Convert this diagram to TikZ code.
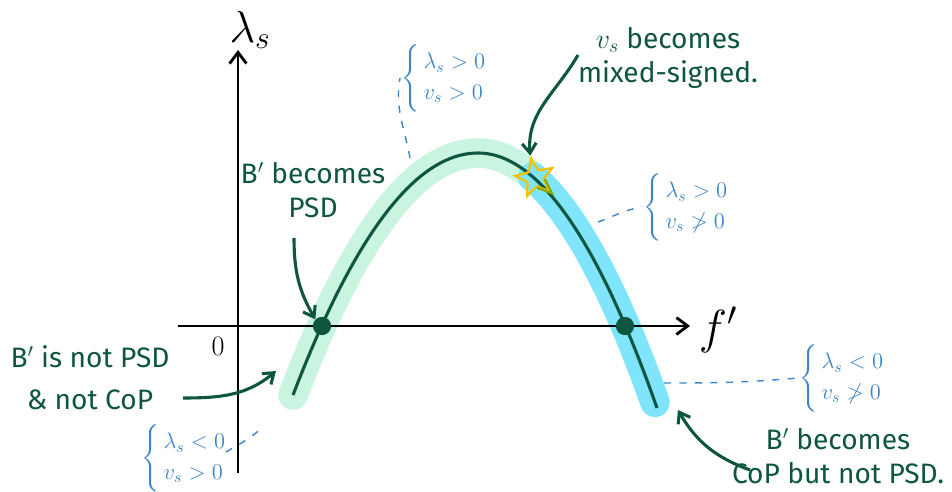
\RequirePackage{fix-cm}
\documentclass[tikz,border=0pt]{standalone}
\usepackage{amsmath, amssymb}
\usepackage{fontspec}
\setmainfont{Fira Sans}
\usepackage{xcolor}
\usepackage{tikz}
\usetikzlibrary{positioning, arrows.meta, shapes.geometric}

\definecolor{ngreen}{HTML}{0E5640}
\definecolor{nblue}{HTML}{3D85C6}
\definecolor{mint}{HTML}{C9F4DF}
\definecolor{skyband}{HTML}{80E5FB}
\definecolor{staryel}{HTML}{F2C200}
\definecolor{starolive}{HTML}{8AA800}

\newcommand{\signs}[2]{$\left\{\renewcommand{\arraystretch}{1.15}\begin{array}{@{\,}l@{}}#1\\ #2\end{array}\right.$}

\tikzset{
  note/.style={text=ngreen, font=\fontsize{20}{24}\selectfont, align=center, inner sep=1pt},
  cond/.style={text=nblue, font=\fontsize{16}{19}\selectfont, anchor=west, inner sep=1pt},
  pointer/.style={draw=ngreen, line width=2.2pt, -{Straight Barb[length=7pt,width=10pt]}},
  guide/.style={draw=nblue, line width=1pt, dash pattern=on 5pt off 6pt},
  dot/.style={circle, fill=ngreen, minimum size=13pt, inner sep=0pt},
}

\begin{document}
\begin{tikzpicture}[x=0.025cm, y=-0.025cm]
       \useasboundingbox (0,0) rectangle (952,492);

       % highlight bands
       \draw[mint, line width=21pt, line cap=round]
         plot[domain=293:478, samples=40] (\x,{153+(0.0841*(\x-478))^2})
         -- plot[domain=478:533, samples=15] (\x,{153+(0.0892*(\x-478))^2});
       \draw[skyband, line width=21pt, line cap=round]
         plot[domain=533:655, samples=30] (\x,{153+(0.0892*(\x-478))^2});

       % axes
       \coordinate (ytop) at (238,50);
       \coordinate (ybot) at (238,473);
       \coordinate (xleft) at (178,326);
       \coordinate (xright) at (690,326);
       \draw[line width=2pt, -{Straight Barb[length=8pt,width=12pt]}] (ybot) -- (ytop);
       \draw[line width=2pt, -{Straight Barb[length=8pt,width=12pt]}] (xleft) -- (xright);
       \node[font=\fontsize{32}{32}\selectfont] (ylab) at (250,30) {$\lambda_s$};
       \node[font=\fontsize{34}{34}\selectfont] (xlab) at (718,330) {$f'$};
       \node[font=\fontsize{20}{20}\selectfont] (zero) at (218,346) {$0$};

       % the curve
       \draw[ngreen, line width=2.2pt]
         plot[domain=293:478, samples=40] (\x,{153+(0.0841*(\x-478))^2})
         -- plot[domain=478:657, samples=40] (\x,{153+(0.0892*(\x-478))^2});
       \node[dot] (r1) at (322,326) {};
       \node[dot] (r2) at (625,326) {};
       \node[star, star points=5, star point ratio=2.3, minimum size=28pt, inner sep=0pt,
             draw=staryel, line width=1.6pt, rotate=12] (mix) at (535,178) {};
       \draw[starolive, line width=1.6pt] (mix.inner point 3) -- (mix.outer point 4)
         -- (mix.inner point 4);

       % labels
       \node[note] (mixtxt) at (668,58) {$v_s$ becomes\\mixed-signed.};
       \node[note] (psdtxt) at (313,190) {B$'$ becomes\\PSD};
       \node[note, font=\fontsize{20}{30}\selectfont] (notpsd) at (90,378) {B$'$ is not PSD\\\& not CoP};
       \node[note] (cop) at (838,456) {B$'$ becomes\\CoP but not PSD.};

       \draw[pointer] (578,55) to[out=240, in=95] (mix.north);
       \draw[pointer] (294,238) to[out=270, in=120] (r1.north west);
       \draw[pointer] (183,398) to[out=0, in=220] (276,371);
       \draw[pointer] (750,470) to[out=160, in=300] (678,410);

       % sign conditions
       \node[cond] (c1) at (400,78) {\signs{\lambda_s>0}{v_s>0}};
       \node[cond] (c2) at (642,207) {\signs{\lambda_s>0}{v_s\not>0}};
       \node[cond] (c3) at (798,378) {\signs{\lambda_s<0}{v_s\not>0}};
       \node[cond] (c4) at (140,458) {\signs{\lambda_s<0}{v_s>0}};

       \coordinate (p1) at (410,158);
       \coordinate (p2) at (598,222);
       \coordinate (p3) at (664,383);
       \coordinate (p4) at (226,452);
       \draw[guide] (p1) to[out=100, in=260] (c1.west);
       \draw[guide] (p2) to[out=20, in=190] (c2.west);
       \draw[guide] (p3) to[out=0, in=185] (c3.west);
       \draw[guide] (p4) to[out=30, in=220] (262,428);
\end{tikzpicture}
\end{document}
